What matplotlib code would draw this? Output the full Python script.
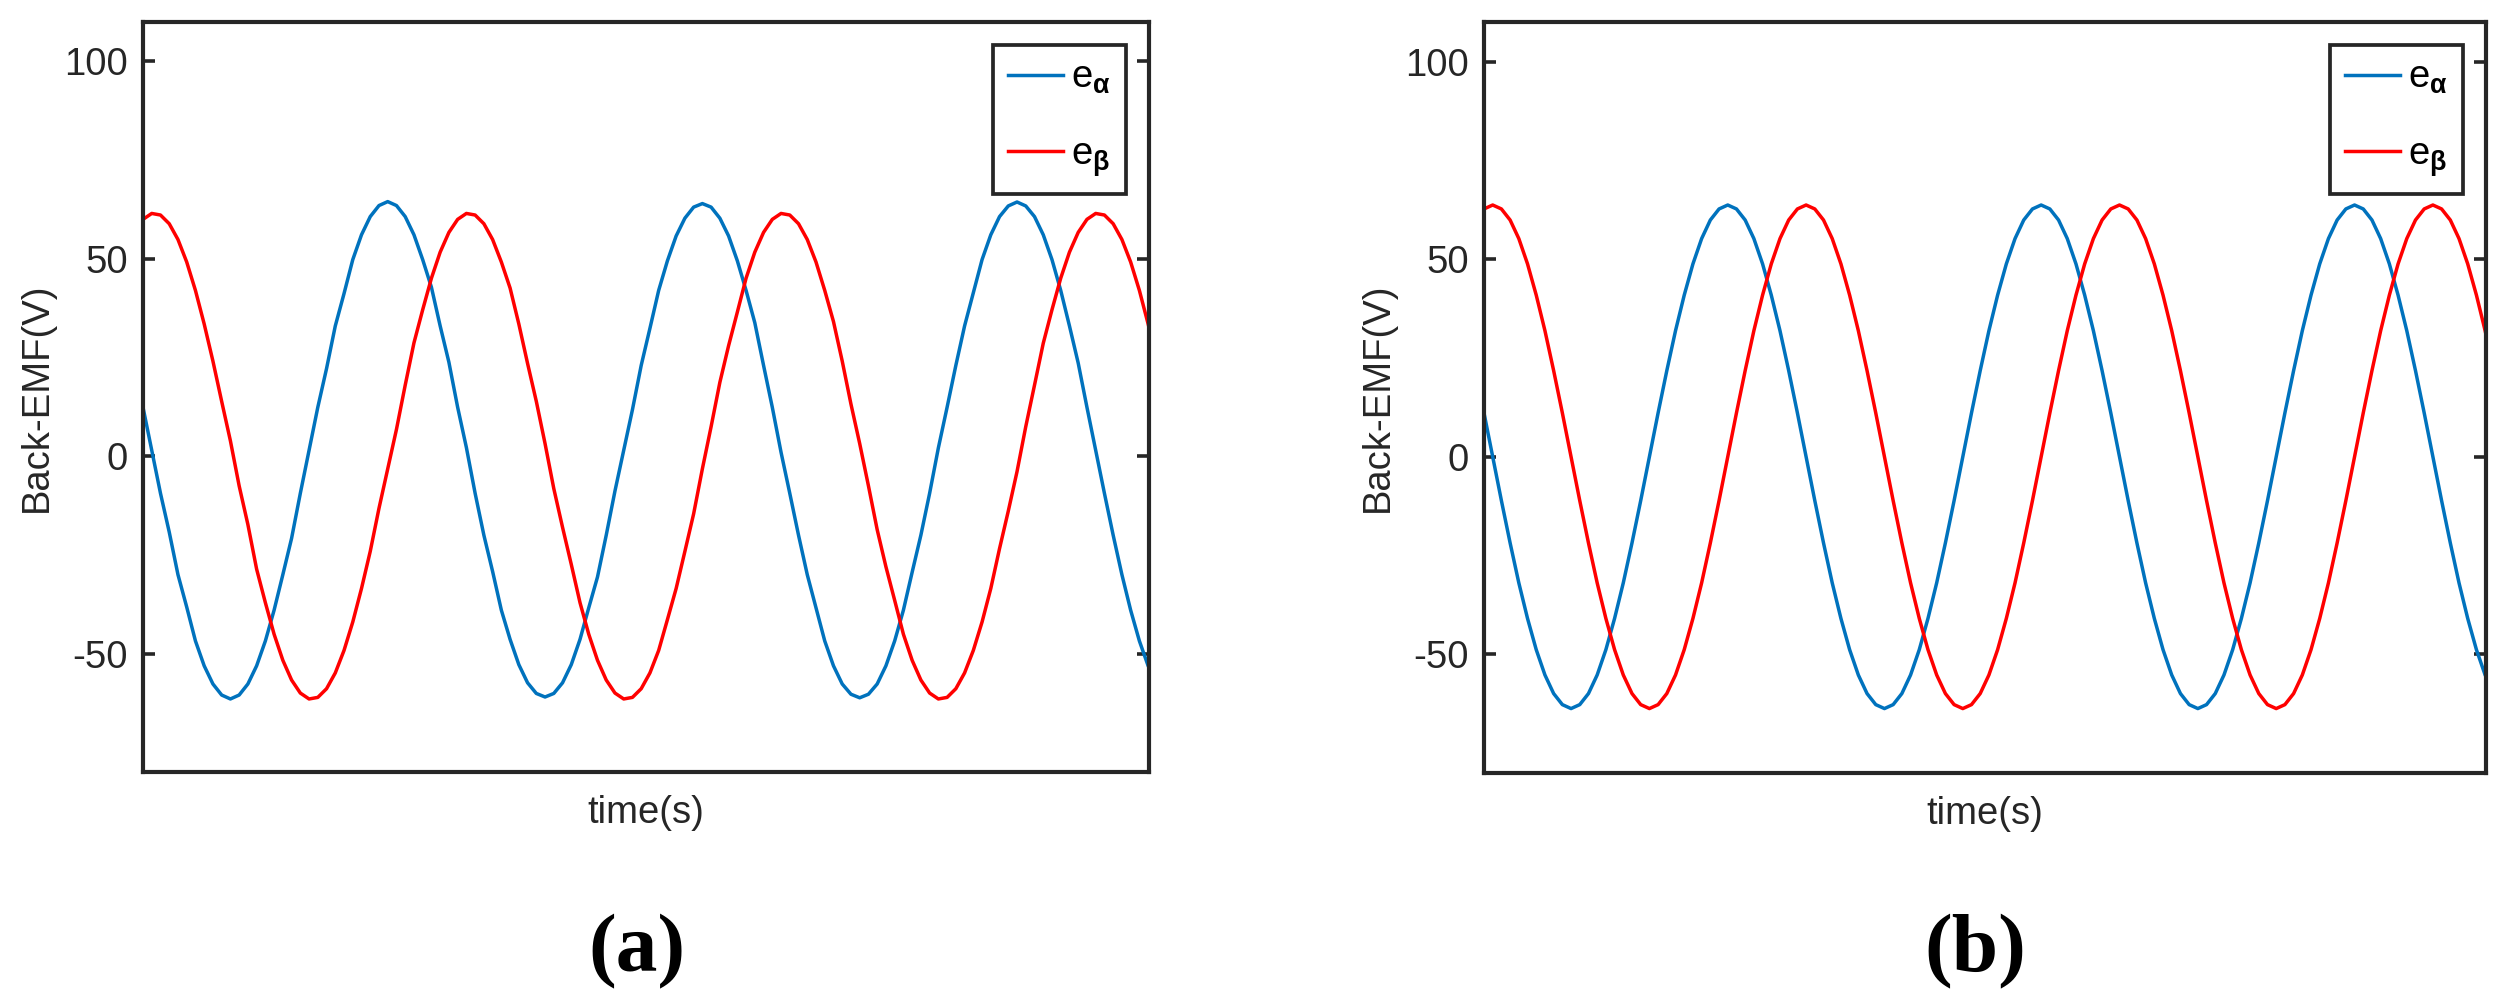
import numpy as np
import matplotlib
matplotlib.use('Agg')
import matplotlib.pyplot as plt

plt.rcParams['font.family'] = ['Liberation Sans', 'DejaVu Sans']
plt.rcParams['mathtext.fontset'] = 'custom'
plt.rcParams['mathtext.rm'] = 'Liberation Sans'
plt.rcParams['mathtext.bf'] = 'Liberation Sans:bold'
plt.rcParams['axes.unicode_minus'] = False

# back-EMF samples (10 electrical degrees per sample)
# panel (a): estimated back-EMF, with small kinks on the slopes
e_alpha_a = [
    12.4, 1.5, -9.4, -19.2, -30.0, -38.2, -46.8, -53.1, -57.7, -60.5, -61.5, -60.5,
    -57.7, -53.1, -46.8, -39.0, -30.0, -20.8, -9.4, 1.5, 12.4, 22.2, 33.0, 41.2,
    49.8, 56.1, 60.7, 63.5, 64.5, 63.5, 60.7, 56.1, 49.8, 42.8, 33.0, 23.8,
    12.4, 2.2, -9.4, -20.0, -29.2, -39.0, -46.4, -52.8, -57.4, -60.1, -61.0, -60.1,
    -57.4, -52.8, -46.4, -38.4, -30.6, -20.0, -8.8, 1.5, 11.8, 23.0, 32.4, 42.0,
    49.5, 55.8, 60.3, 63.1, 64.0, 63.1, 60.3, 55.8, 49.5, 42.0, 33.8, 23.0,
    12.4, 1.0, -9.4, -20.0, -30.0, -38.4, -46.8, -53.1, -57.7, -60.3, -61.2, -60.3,
    -57.7, -53.1, -46.8, -39.0, -29.4, -20.0, -9.4, 2.1, 12.4, 23.0, 33.0, 41.4,
    49.8, 56.1, 60.7, 63.4, 64.4, 63.4, 60.7, 56.1, 49.8, 42.0, 33.0, 23.6,
    12.4, 1.5, -9.4, -20.0, -30.0, -39.0, -46.8, -53.1, -57.7,
]
e_beta_a = [
    60.0, 61.5, 61.1, 58.9, 54.9, 49.2, 42.0, 33.5, 24.1, 13.9, 3.9, -7.5,
    -17.3, -28.6, -37.1, -45.1, -51.7, -56.7, -60.0, -61.5, -61.1, -58.9, -54.9, -49.2,
    -42.0, -33.5, -24.1, -13.2, -3.2, 6.8, 18.0, 28.7, 37.1, 45.1, 51.7, 56.7,
    60.0, 61.5, 61.1, 58.9, 54.9, 49.2, 42.6, 33.5, 23.5, 13.9, 3.2, -8.2,
    -18.0, -27.4, -37.1, -45.1, -51.7, -56.7, -60.0, -61.5, -61.1, -58.9, -54.9, -49.2,
    -41.4, -33.5, -24.1, -14.6, -3.2, 7.5, 18.7, 28.0, 36.5, 45.1, 51.7, 56.7,
    60.0, 61.5, 61.1, 58.9, 54.9, 49.2, 42.0, 34.1, 24.1, 13.2, 3.2, -7.5,
    -18.6, -28.0, -36.5, -45.1, -51.7, -56.7, -60.0, -61.5, -61.1, -58.9, -54.9, -49.2,
    -42.0, -33.5, -23.4, -13.9, -3.9, 7.5, 18.0, 28.6, 37.1, 45.1, 51.7, 56.7,
    60.0, 61.5, 61.1, 58.9, 54.9, 49.2, 42.0, 33.5, 24.1,
]
# panel (b): clean sinusoidal back-EMF
e_alpha_b = [
    11.1, 0.0, -11.1, -21.8, -31.9, -40.9, -48.8, -55.2, -59.9, -62.7, -63.7, -62.7,
    -59.9, -55.2, -48.8, -40.9, -31.9, -21.8, -11.1, 0.0, 11.1, 21.8, 31.9, 40.9,
    48.8, 55.2, 59.9, 62.7, 63.7, 62.7, 59.9, 55.2, 48.8, 40.9, 31.9, 21.8,
    11.1, 0.0, -11.1, -21.8, -31.9, -40.9, -48.8, -55.2, -59.9, -62.7, -63.7, -62.7,
    -59.9, -55.2, -48.8, -40.9, -31.9, -21.8, -11.1, 0.0, 11.1, 21.8, 31.9, 40.9,
    48.8, 55.2, 59.9, 62.7, 63.7, 62.7, 59.9, 55.2, 48.8, 40.9, 31.9, 21.8,
    11.1, 0.0, -11.1, -21.8, -31.9, -40.9, -48.8, -55.2, -59.9, -62.7, -63.7, -62.7,
    -59.9, -55.2, -48.8, -40.9, -31.9, -21.8, -11.1, 0.0, 11.1, 21.8, 31.9, 40.9,
    48.8, 55.2, 59.9, 62.7, 63.7, 62.7, 59.9, 55.2, 48.8, 40.9, 31.9, 21.8,
    11.1, 0.0, -11.1, -21.8, -31.9, -40.9, -48.8, -55.2, -59.9,
]
e_beta_b = [
    62.7, 63.7, 62.7, 59.9, 55.2, 48.8, 40.9, 31.9, 21.8, 11.1, 0.0, -11.1,
    -21.8, -31.9, -40.9, -48.8, -55.2, -59.9, -62.7, -63.7, -62.7, -59.9, -55.2, -48.8,
    -40.9, -31.9, -21.8, -11.1, 0.0, 11.1, 21.8, 31.9, 40.9, 48.8, 55.2, 59.9,
    62.7, 63.7, 62.7, 59.9, 55.2, 48.8, 40.9, 31.9, 21.8, 11.1, 0.0, -11.1,
    -21.8, -31.9, -40.9, -48.8, -55.2, -59.9, -62.7, -63.7, -62.7, -59.9, -55.2, -48.8,
    -40.9, -31.9, -21.8, -11.1, 0.0, 11.1, 21.8, 31.9, 40.9, 48.8, 55.2, 59.9,
    62.7, 63.7, 62.7, 59.9, 55.2, 48.8, 40.9, 31.9, 21.8, 11.1, 0.0, -11.1,
    -21.8, -31.9, -40.9, -48.8, -55.2, -59.9, -62.7, -63.7, -62.7, -59.9, -55.2, -48.8,
    -40.9, -31.9, -21.8, -11.1, 0.0, 11.1, 21.8, 31.9, 40.9, 48.8, 55.2, 59.9,
    62.7, 63.7, 62.7, 59.9, 55.2, 48.8, 40.9, 31.9, 21.8,
]
t_end = 115.1  # visible window, in samples
y_ticks = [-50, 0, 50, 100]
panel_tags = ['(a)', '(b)']

dark = '#262626'
blue = '#0072BD'
red = '#FF0000'

fig = plt.figure(figsize=(25.08, 10.06), dpi=100)
ax_a = fig.add_axes([143 / 2508, 1 - 772 / 1006, 1006 / 2508, 750 / 1006])
ax_b = fig.add_axes([1484 / 2508, 1 - 773 / 1006, 1002 / 2508, 751 / 1006])

panels = [(ax_a, e_alpha_a, e_beta_a), (ax_b, e_alpha_b, e_beta_b)]
for ax, ea, eb in panels:
    ax.plot(np.arange(len(ea)), ea, color=blue, lw=2.5, label=r'$\mathrm{e}_{\mathbf{α}}$')
    ax.plot(np.arange(len(eb)), eb, color=red, lw=2.5, label=r'$\mathrm{e}_{\mathbf{β}}$')
    ax.set_xlim(0, t_end)
    ax.set_ylim(-80, 110)
    ax.set_xticks([])
    ax.set_yticks(y_ticks)
    ax.tick_params(axis='y', direction='in', length=8.6, width=2.6, left=True, right=True,
                   labelsize=27.5, pad=10.8, colors=dark)
    for sp in ax.spines.values():
        sp.set_linewidth(3.0)
        sp.set_color(dark)
    ax.set_xlabel('time(s)', fontsize=27.5, color=dark)
    ax.xaxis.set_label_coords(0.5, -0.031)
    ax.set_ylabel('Back-EMF(V)', fontsize=27.5, color=dark)
    ax.yaxis.set_label_coords(-0.0875, 0.5)
    leg = ax.legend(loc='upper right', fontsize=27.5, frameon=True, fancybox=False,
                    edgecolor=dark, framealpha=1, borderaxespad=0.6, handlelength=1.45,
                    handletextpad=0.2, labelspacing=1.05, borderpad=0.4)
    leg.get_frame().set_linewidth(2.7)

fig.text(637 / 2508, 1 - 952 / 1006, panel_tags[0], ha='center', va='center',
         family='Liberation Serif', weight='bold', fontsize=60)
fig.text(1975 / 2508, 1 - 952 / 1006, panel_tags[1], ha='center', va='center',
         family='Liberation Serif', weight='bold', fontsize=60)

fig.savefig('out.png', dpi=100)
